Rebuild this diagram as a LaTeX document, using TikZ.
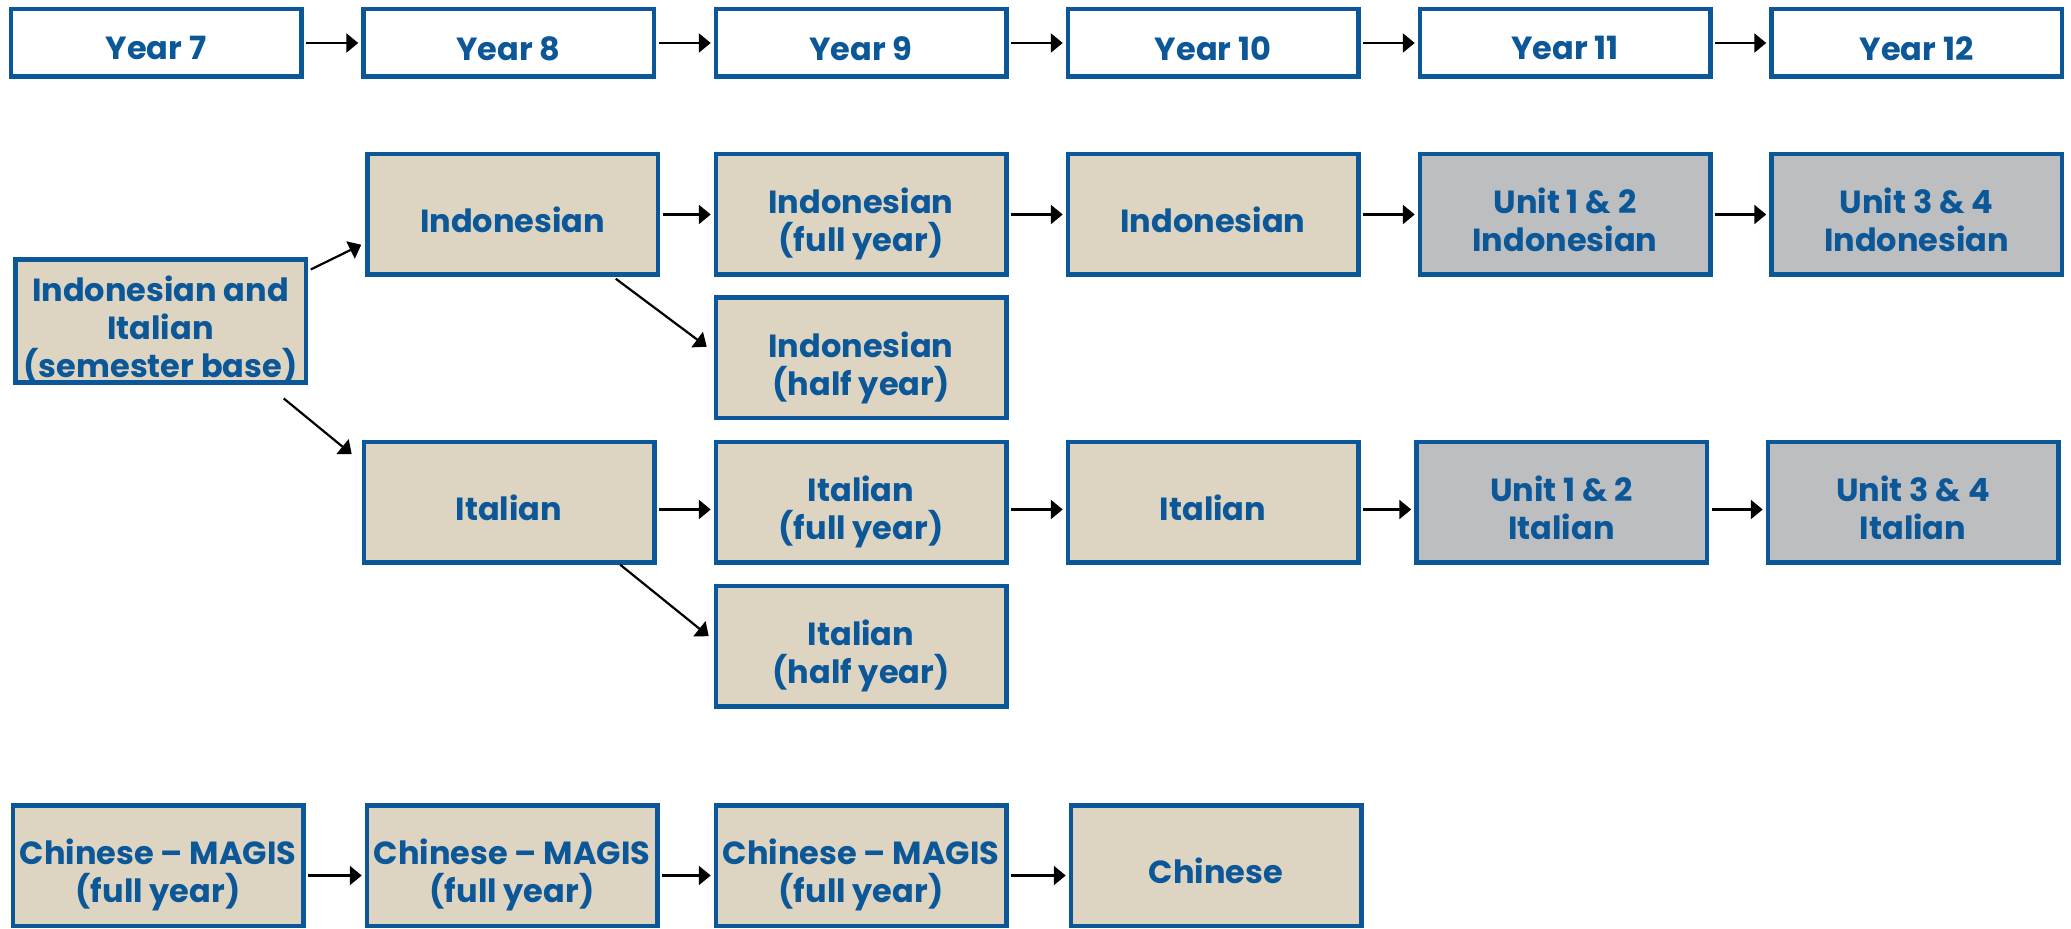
\documentclass[tikz,border=0pt]{standalone}
\usepackage{fontspec}
\setmainfont{Poppins}
\usetikzlibrary{arrows.meta,calc}
\definecolor{bblue}{HTML}{0B5797}
\definecolor{tanfill}{HTML}{DDD4C2}
\definecolor{greyfill}{HTML}{BDBEC0}
\tikzset{
 base/.style={draw=bblue, line width=2.25pt, inner sep=0pt, outer sep=0pt, minimum width=145.25pt},
 yearbox/.style={base, fill=white, minimum height=33.75pt},
 tanbox/.style={base, fill=tanfill, minimum height=60.25pt},
 greybox/.style={base, fill=greyfill, minimum height=60.25pt},
 txt/.style={text=bblue, font=\fontsize{16}{19}\selectfont\bfseries, align=center, inner sep=0pt, text depth=0pt, yshift=-2.6pt},
 arr/.style={draw=black, line width=1.3pt, -{Triangle[length=6pt,width=9.5pt]}, shorten <=2.5pt, shorten >=2.5pt},
 diag/.style={draw=black, line width=1.1pt, -{Triangle[length=6pt,width=9.5pt]}}
}
\newcommand\bx[4]{\node[#1] (#2) at (#3) {}; \node[txt] (#2t) at (#2.center) {#4};}
\begin{document}
\begin{tikzpicture}[x=0.5pt,y=-0.5pt]
\useasboundingbox (0,0) rectangle (2071,929);
% year row
\bx{yearbox}{y7}{156,43}{Year 7}
\bx{yearbox}{y8}{508.5,43}{Year 8}
\bx{yearbox}{y9}{861,43}{Year 9}
\bx{yearbox}{y10}{1213,43}{Year 10}
\bx{yearbox}{y11}{1565,43}{Year 11}
\bx{yearbox}{y12}{1916.5,43}{Year 12}
\foreach \a/\b in {y7/y8,y8/y9,y9/y10,y10/y11,y11/y12}
  \draw[arr] (\a.east) -- (\b.west);
% semester base
\bx{tanbox, minimum height=61.5pt}{sem}{160.5,321}{Indonesian and\\Italian\\(semester base)}
% Indonesian row
\bx{tanbox}{ind8}{512.5,214.5}{Indonesian}
\bx{tanbox}{ind9}{861,214.5}{Indonesian\\(full year)}
\bx{tanbox}{ind10}{1213,214.5}{Indonesian}
\bx{greybox}{ind11}{1565,214.5}{Unit 1 \& 2\\Indonesian}
\bx{greybox}{ind12}{1916.5,214.5}{Unit 3 \& 4\\Indonesian}
\bx{tanbox}{indh}{861,358}{Indonesian\\(half year)}
\foreach \a/\b in {ind8/ind9,ind9/ind10,ind10/ind11,ind11/ind12}
  \draw[arr] (\a.east) -- (\b.west);
% Italian row
\bx{tanbox}{it8}{509,502.5}{Italian}
\bx{tanbox}{it9}{861,502.5}{Italian\\(full year)}
\bx{tanbox}{it10}{1213,502.5}{Italian}
\bx{greybox}{it11}{1561.5,502.5}{Unit 1 \& 2\\Italian}
\bx{greybox}{it12}{1913,502.5}{Unit 3 \& 4\\Italian}
\bx{tanbox}{ith}{861,646.5}{Italian\\(half year)}
\foreach \a/\b in {it8/it9,it9/it10,it10/it11,it11/it12}
  \draw[arr] ([yshift=-3.5pt]\a.east) -- ([yshift=-3.5pt]\b.west);
% Chinese row
\bx{tanbox}{ch7}{158,865.5}{Chinese – MAGIS\\(full year)}
\bx{tanbox}{ch8}{512,865.5}{Chinese – MAGIS\\(full year)}
\bx{tanbox}{ch9}{861,865.5}{Chinese – MAGIS\\(full year)}
\bx{tanbox}{ch10}{1216,865.5}{Chinese}
\foreach \a/\b in {ch7/ch8,ch8/ch9,ch9/ch10}
  \draw[arr] ([yshift=-5pt]\a.east) -- ([yshift=-5pt]\b.west);
% diagonal arrows
\draw[diag] ([shift={(5,10)}]sem.north east) -- ([shift={(-6,-30)}]ind8.south west);
\draw[diag] ([shift={(-22,16)}]sem.south east) -- ([shift={(-12,12)}]it8.north west);
\draw[diag] ([shift={(-42,4)}]ind8.south east) -- ([shift={(-9,49)}]indh.north west);
\draw[diag] ([shift={(-34,2)}]it8.south east) -- ([shift={(-7,50)}]ith.north west);
\end{tikzpicture}
\end{document}
